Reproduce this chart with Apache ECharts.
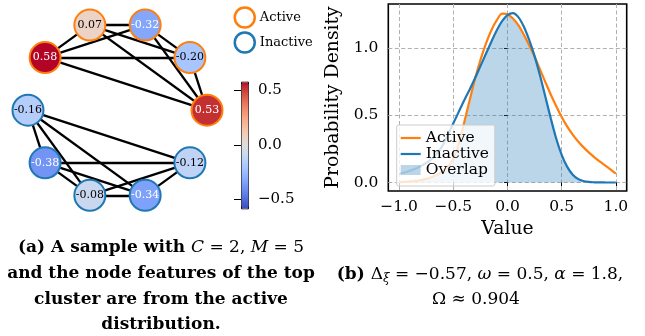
<!DOCTYPE html>
<html><head><meta charset="utf-8">
<script src="https://cdn.jsdelivr.net/npm/echarts@6/dist/echarts.min.js"></script>
<style>html,body{margin:0;padding:0;background:#fff}#c{width:645px;height:336px}</style>
</head><body><div id="c"></div>
<script>
// ---------- (a) graph data ----------
const nodeIds = ['n0','n1','n2','n3','n4','n5','n6','n7','n8','n9'];
const nodeFeatures = [0.53, -0.20, -0.32, 0.07, 0.58, -0.16, -0.38, -0.08, -0.34, -0.12];
const nodeGroup = ['Active','Active','Active','Active','Active','Inactive','Inactive','Inactive','Inactive','Inactive'];
const edgeSource = [0,0,0,0,1,1,1,2,2,3, 5,5,5,5,6,6,6,7,7,8];
const edgeTarget = [1,2,3,4,2,3,4,3,4,4, 6,7,8,9,7,8,9,8,9,9];
const featureRange = [-0.58, 0.58];
const colorbarTicks = [-0.5, 0, 0.5];

// ---------- (b) density data ----------
const xValues = [-1.00,-0.95,-0.90,-0.85,-0.80,-0.75,-0.70,-0.65,-0.60,-0.55,-0.50,-0.45,-0.40,-0.35,-0.30,-0.25,-0.20,-0.15,-0.10,-0.05,
  0.00,0.05,0.10,0.15,0.20,0.25,0.30,0.35,0.40,0.45,0.50,0.55,0.60,0.65,0.70,0.75,0.80,0.85,0.90,0.95,1.00];
const activeDensity = [0.003,0.005,0.008,0.012,0.018,0.027,0.040,0.058,0.083,0.118,0.178,0.290,0.445,0.610,0.770,0.910,1.030,1.130,1.205,1.255,
  1.250,1.220,1.170,1.100,1.020,0.935,0.840,0.745,0.653,0.567,0.487,0.417,0.358,0.307,0.263,0.224,0.189,0.157,0.127,0.097,0.066];
const inactiveDensity = [0.063,0.074,0.087,0.102,0.121,0.145,0.176,0.215,0.275,0.355,0.440,0.525,0.610,0.690,0.775,0.865,0.955,1.045,1.130,1.200,
  1.245,1.260,1.230,1.160,1.060,0.940,0.795,0.635,0.475,0.325,0.205,0.118,0.060,0.027,0.011,0.004,0.0015,0.0005,0.0002,0.0001,0.0];
const overlapDensity = [0.003,0.005,0.008,0.012,0.018,0.027,0.040,0.058,0.083,0.118,0.178,0.290,0.445,0.610,0.770,0.865,0.955,1.045,1.130,1.200,
  1.245,1.220,1.170,1.100,1.020,0.935,0.795,0.635,0.475,0.325,0.205,0.118,0.060,0.027,0.011,0.004,0.0015,0.0005,0.0002,0.0001,0.0];
const xTicks = [-1.0, -0.5, 0.0, 0.5, 1.0];
const yTicks = [0.0, 0.5, 1.0];
const xRange = [-1.1, 1.1];
const yRange = [-0.0632, 1.3272];

// ---------- styles ----------
const ORANGE = '#ff7f0e', BLUE = '#1f77b4';
const groupColor = {Active: ORANGE, Inactive: BLUE};
const coolwarm = ['#3b4cc0','#445acc','#4d68d7','#5775e1','#6282ea','#6c8ef1','#779af7','#82a5fb','#8db0fe','#98b9ff',
  '#a3c2ff','#aec9fd','#b8d0f9','#c2d5f4','#ccd9ee','#d5dbe6','#dddddd','#e5d8d1','#ecd3c5','#f1ccb8','#f5c4ac','#f7bba0',
  '#f7b194','#f7a687','#f49a7b','#f18d6f','#ec7f63','#e57058','#de604d','#d55042','#cb3e38','#c0282f','#b40426'];
const SERIF = 'DejaVu Serif';
const minus = v => (v < 0 ? '\u2212' : '') + Math.abs(v).toFixed(1);
const toXY = arr => xValues.map((x, i) => [x, arr[i]]);
const featureColor = v => echarts.color.lerp((v - featureRange[0]) / (featureRange[1] - featureRange[0]), coolwarm);

const nodes = nodeIds.map((id, i) => ({
  name: id,
  value: [1, i],
  feature: nodeFeatures[i],
  itemStyle: {color: featureColor(nodeFeatures[i]), borderColor: groupColor[nodeGroup[i]]},
  label: {color: Math.abs(nodeFeatures[i]) > 0.3 ? '#fff' : '#000'}
}));
const links = edgeSource.map((s, k) => ({source: nodeIds[s], target: nodeIds[edgeTarget[k]]}));

const FS = 17;
const capB = {fontFamily: SERIF, fontWeight: 'bold', fontSize: FS, color: '#000'};
const capR = {fontFamily: SERIF, fontSize: FS, color: '#000'};
const capI = {fontFamily: SERIF, fontStyle: 'italic', fontSize: FS, color: '#000'};
const capS = {fontFamily: SERIF, fontStyle: 'italic', fontSize: 12, color: '#000', padding: [8, 0, 0, 0]};
const rich = {b: capB, r: capR, i: capI, s: capS};
const cap = (x, y, text) => ({type: 'text', x: x, y: y, silent: true,
  style: {text: text, align: 'center', verticalAlign: 'middle', rich: rich}});

const chart = echarts.init(document.getElementById('c'), null, {renderer: 'canvas'});
chart.setOption({
  animation: false,
  polar: {center: [117.5, 110.2], radius: 89.5},
  radiusAxis: {min: 0, max: 1, show: false},
  angleAxis: {type: 'category', data: nodeIds, startAngle: 0, clockwise: false, boundaryGap: false, show: false},
  grid: [
    {left: 388.3, top: 4, width: 238.4, height: 187, show: true, borderColor: '#000', borderWidth: 1.6, containLabel: false},
    {left: 241, top: 81.7, width: 7, height: 126.6, show: false, containLabel: false}
  ],
  xAxis: [
    {gridIndex: 0, type: 'value', min: xRange[0], max: xRange[1],
     axisLine: {show: false},
     axisTick: {show: true, length: 3.5, lineStyle: {color: '#000', width: 1}, customValues: xTicks},
     axisLabel: {customValues: xTicks, formatter: minus, fontFamily: SERIF, fontSize: 15.5, color: '#000', margin: 8},
     splitLine: {show: true, lineStyle: {type: [4, 2.5], color: '#b0b0b0', width: 1}},
     name: 'Value', nameLocation: 'middle', nameGap: 29,
     nameTextStyle: {fontFamily: SERIF, fontSize: 18.8, color: '#000'}},
    {gridIndex: 1, type: 'value', min: 0, max: 1, show: false}
  ],
  yAxis: [
    {gridIndex: 0, type: 'value', min: yRange[0], max: yRange[1],
     axisLine: {show: false},
     axisTick: {show: true, length: 3.5, lineStyle: {color: '#000', width: 1}, customValues: yTicks},
     axisLabel: {customValues: yTicks, formatter: minus, fontFamily: SERIF, fontSize: 15.5, color: '#000', margin: 10},
     splitLine: {show: true, lineStyle: {type: [4, 2.5], color: '#b0b0b0', width: 1}},
     name: 'Probability Density', nameLocation: 'middle', nameGap: 46,
     nameTextStyle: {fontFamily: SERIF, fontSize: 18.8, color: '#000'}},
    {gridIndex: 1, type: 'value', min: featureRange[0], max: featureRange[1], position: 'right',
     axisLine: {show: false},
     axisTick: {show: true, inside: true, length: 7, lineStyle: {color: '#000', width: 1}, customValues: colorbarTicks},
     axisLabel: {customValues: colorbarTicks, formatter: minus, fontFamily: SERIF, fontSize: 15, color: '#000', margin: 10},
     splitLine: {show: false}}
  ],
  visualMap: {
    type: 'continuous', min: featureRange[0], max: featureRange[1], seriesIndex: 4,
    orient: 'vertical', left: 241, top: 81.7, itemWidth: 7, itemHeight: 126.6,
    calculable: false, hoverLink: false, padding: 0, borderColor: '#000', borderWidth: 1,
    inRange: {color: coolwarm}
  },
  legend: [
    {orient: 'vertical', left: 233.5, top: 6.3, padding: 0, itemGap: 2.5, itemWidth: 20, itemHeight: 20,
     selectedMode: false,
     textStyle: {fontFamily: SERIF, fontSize: 13, color: '#000'},
     data: [
       {name: 'Active', icon: 'circle', itemStyle: {color: '#fff', borderColor: ORANGE, borderWidth: 2.5}},
       {name: 'Inactive', icon: 'circle', itemStyle: {color: '#fff', borderColor: BLUE, borderWidth: 2.5}}
     ]},
    {orient: 'vertical', left: 396.7, top: 125, padding: [5, 6, 8, 4], itemGap: 0, itemWidth: 20, itemHeight: 10,
     selectedMode: false,
     backgroundColor: 'rgba(255,255,255,0.8)', borderColor: '#cccccc', borderWidth: 1, borderRadius: 2,
     textStyle: {fontFamily: SERIF, fontSize: 15.5, color: '#000', lineHeight: 15.3},
     data: [
       {name: 'Active', icon: 'path://M0,0H20V2.2H0Z', itemStyle: {color: ORANGE}},
       {name: 'Inactive', icon: 'path://M0,0H20V2.2H0Z', itemStyle: {color: BLUE}},
       {name: 'Overlap', icon: 'rect', itemStyle: {color: 'rgba(31,119,180,0.3)'}}
     ]}
  ],
  series: [
    {type: 'graph', coordinateSystem: 'polar', polarIndex: 0, layout: 'none', name: 'graph',
     symbol: 'circle', symbolSize: 31, roam: false, z: 2,
     itemStyle: {borderWidth: 2, opacity: 1},
     lineStyle: {color: '#000', width: 2.3, opacity: 1, curveness: 0},
     label: {show: true, position: 'inside', fontFamily: SERIF, fontSize: 11,
             formatter: p => p.data.feature.toFixed(2)},
     emphasis: {disabled: true},
     data: nodes, links: links},
    {type: 'line', name: 'Overlap', xAxisIndex: 0, yAxisIndex: 0, data: toXY(overlapDensity),
     showSymbol: false, symbol: 'none', smooth: 0.3, z: 1,
     lineStyle: {width: 0, opacity: 0}, areaStyle: {color: 'rgba(31,119,180,0.3)', opacity: 1}},
    {type: 'line', name: 'Active', xAxisIndex: 0, yAxisIndex: 0, data: toXY(activeDensity),
     showSymbol: false, symbol: 'none', smooth: 0.3, z: 3,
     color: ORANGE, lineStyle: {width: 2.2, color: ORANGE}},
    {type: 'line', name: 'Inactive', xAxisIndex: 0, yAxisIndex: 0, data: toXY(inactiveDensity),
     showSymbol: false, symbol: 'none', smooth: 0.3, z: 3,
     color: BLUE, lineStyle: {width: 2.2, color: BLUE}},
    {type: 'scatter', name: 'colorbar', xAxisIndex: 1, yAxisIndex: 1, data: [], silent: true}
  ],
  graphic: [
    cap(161, 248, '{b|(a) A sample with }{i|C}{r| = 2, }{i|M}{r| = 5}'),
    cap(161, 273.5, '{b|and the node features of the top}'),
    cap(161, 299.5, '{b|cluster are from the active}'),
    cap(161, 325, '{b|distribution.}'),
    cap(480, 275, '{b|(b) }{r|\u0394}{s|\u03be}{r| = \u22120.57, }{i|\u03c9}{r| = 0.5, }{i|\u03b1}{r| = 1.8,}'),
    cap(476, 300, '{r|\u03a9 \u2248 0.904}')
  ]
});
</script></body></html>
